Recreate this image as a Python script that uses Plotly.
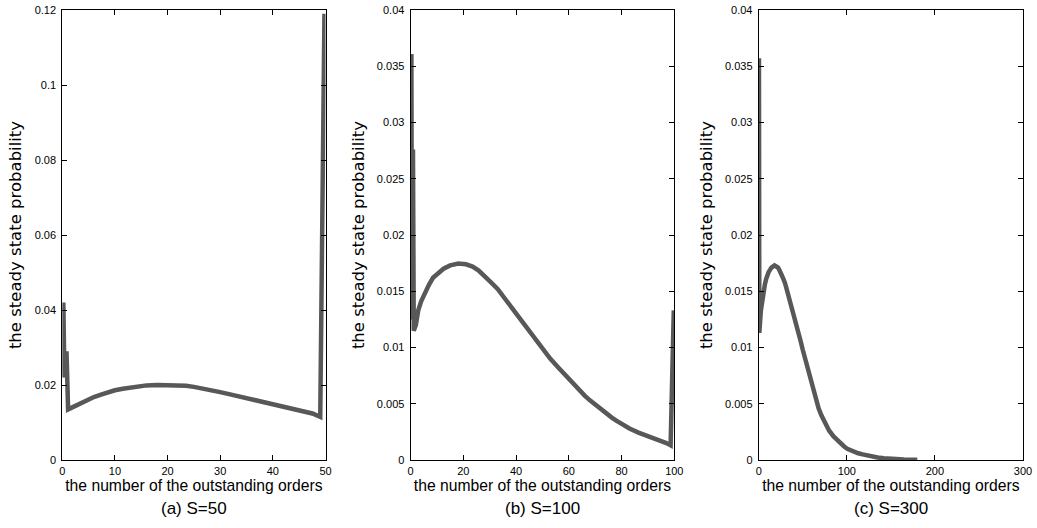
import plotly.graph_objects as go

# ---------------- data ----------------
# (a) S=50
x_a = [0.2, 0.4, 0.8, 1.1, 2.0, 3.0, 4.0, 5.0, 6.0, 7.5, 9.0, 10.0, 11.5, 13.0, 14.5, 16.0,
       18.0, 20.0, 22.0, 23.5, 25.0, 27.5, 30.0, 32.5, 35.0, 37.5, 40.0, 42.5, 45.0, 47.5,
       49.0, 49.2, 49.4, 49.6, 49.8]
y_a = [0.042, 0.022, 0.029, 0.0135, 0.0141, 0.0148, 0.0155, 0.0162, 0.0168, 0.0175, 0.0182,
       0.0186, 0.0190, 0.0194, 0.0197, 0.0199, 0.0200, 0.0200, 0.0200, 0.0198, 0.0195,
       0.0189, 0.0181, 0.0173, 0.0165, 0.0157, 0.0149, 0.0141, 0.0133, 0.0124,
       0.0115, 0.041, 0.069, 0.096, 0.119]

# (b) S=100
x_b = [0.1, 0.3, 0.5, 0.9, 1.2, 2.0, 2.9, 4.0, 5.5, 7.0, 8.5, 10.5, 12.5, 15.0, 18.1, 21.0,
       23.5, 25.7, 28.0, 30.0, 33.0, 35.8, 38.0, 40.0, 43.0, 45.9, 48.0, 50.0, 53.0, 56.0,
       58.0, 60.0, 63.0, 66.1, 68.0, 70.0, 73.0, 76.3, 78.0, 80.0, 83.0, 86.4, 88.0, 90.0,
       92.5, 95.0, 97.0, 98.6, 99.3, 99.8]
y_b = [0.0148, 0.0361, 0.0125, 0.0276, 0.0115, 0.0120, 0.0133, 0.0141, 0.0149, 0.0156,
       0.0162, 0.01665, 0.0170, 0.0173, 0.01746, 0.0174, 0.0172, 0.01686, 0.0164, 0.0159,
       0.0152, 0.01433, 0.0136, 0.0129, 0.0120, 0.01105, 0.0104, 0.0098, 0.0090, 0.00823,
       0.0077, 0.0072, 0.0064, 0.0057, 0.0053, 0.0049, 0.0043, 0.00377, 0.0035, 0.0032,
       0.0028, 0.00243, 0.0023, 0.0021, 0.0019, 0.0017, 0.0015, 0.0013, 0.0078, 0.0133]

# (c) S=300
x_c = [0.3, 0.7, 1.5, 2.5, 4.0, 5.6, 7.0, 8.5, 11.2, 14.5, 17.9, 20.0, 22.0, 24.0, 26.1,
       28.0, 30.0, 32.5, 35.4, 37.5, 40.0, 42.5, 44.8, 47.5, 50.0, 52.0, 54.1, 56.0, 58.0,
       60.5, 63.4, 65.5, 68.0, 71.0, 74.6, 77.0, 80.0, 85.0, 89.6, 93.0, 97.0, 100.5, 104.5,
       108.0, 113.0, 118.0, 123.0, 129.0, 135.0, 142.0, 150.0, 165.0, 180.0]
y_c = [0.0357, 0.0113, 0.0122, 0.0133, 0.0143, 0.01505, 0.0156, 0.0161, 0.0167, 0.0171,
       0.0173, 0.0172, 0.0171, 0.0168, 0.0165, 0.0161, 0.0157, 0.0150, 0.0143, 0.0136,
       0.0129, 0.0121, 0.0114, 0.0106, 0.0098, 0.0092, 0.0085, 0.0079, 0.0073, 0.0066,
       0.0058, 0.0052, 0.0046, 0.0040, 0.0034, 0.0030, 0.0026, 0.0021, 0.0017, 0.0014,
       0.0012, 0.0010, 0.00085, 0.0007, 0.0006, 0.0005, 0.0004, 0.0003, 0.00022, 0.00015,
       0.0001, 0.00005, 0.00002]

xticks_a = [0, 10, 20, 30, 40, 50]
xticks_b = [0, 20, 40, 60, 80, 100]
xticks_c = [0, 100, 200, 300]
yticks_a = [0, 0.02, 0.04, 0.06, 0.08, 0.1, 0.12]
yticks_bc = [0, 0.005, 0.01, 0.015, 0.02, 0.025, 0.03, 0.035, 0.04]

captions = ["(a) S=50", "(b) S=100", "(c) S=300"]
x_title = "the number of the outstanding orders"
y_title = "the steady state probability"

# ---------------- layout ----------------
W, H = 1037, 528
FONT = "Liberation Sans, Arial, sans-serif"
YFONT = "DejaVu Sans, Verdana, sans-serif"
LINE_COLOR = "rgb(88,88,88)"

panels = [
    dict(x=x_a, y=y_a, xr=[0, 50], yr=[0, 0.12], xt=xticks_a, yt=yticks_a, px=(62.3, 325.5)),
    dict(x=x_b, y=y_b, xr=[0, 100], yr=[0, 0.04], xt=xticks_b, yt=yticks_bc, px=(410.6, 674.3)),
    dict(x=x_c, y=y_c, xr=[0, 300], yr=[0, 0.04], xt=xticks_c, yt=yticks_bc, px=(758.7, 1023.0)),
]
y_dom = [1 - 460 / H, 1 - 10 / H]

fig = go.Figure()
layout = dict(
    width=W, height=H,
    margin=dict(l=0, r=0, t=0, b=0),
    paper_bgcolor="white", plot_bgcolor="white",
    showlegend=False,
    font=dict(family=FONT, color="black", size=11),
    annotations=[],
)

for i, p in enumerate(panels):
    n = "" if i == 0 else str(i + 1)
    fig.add_trace(go.Scatter(
        x=p["x"], y=p["y"], mode="lines",
        line=dict(color=LINE_COLOR, width=4.5),
        xaxis="x" + n, yaxis="y" + n, hoverinfo="x+y",
    ))
    axis_common = dict(
        showline=True, linecolor="black", linewidth=1, mirror="ticks",
        ticks="inside", ticklen=5, tickwidth=1, tickcolor="black",
        showgrid=False, zeroline=False, automargin=False,
        tickfont=dict(family=FONT, size=11, color="black"),
    )
    dom = [p["px"][0] / W, p["px"][1] / W]
    layout["xaxis" + n] = dict(
        axis_common, domain=dom, range=p["xr"], tickvals=p["xt"],
        anchor="y" + n, ticklabelstandoff=1,
        title=dict(text=x_title, font=dict(family=FONT, size=15.7), standoff=3),
    )
    layout["yaxis" + n] = dict(
        axis_common, domain=y_dom, range=p["yr"], tickvals=p["yt"],
        anchor="x" + n, ticklabelstandoff=3,
        title=dict(text=y_title, font=dict(family=YFONT, size=16.5), standoff=8),
    )
    layout["annotations"].append(dict(
        text=captions[i], xref="paper", yref="paper",
        x=(dom[0] + dom[1]) / 2, y=1 - 508 / H, xanchor="center", yanchor="middle",
        showarrow=False, font=dict(family=FONT, size=17, color="black"),
    ))

fig.update_layout(**layout)
fig.write_html(
    "out.html",
    config={"displayModeBar": False},
    post_script="document.body.style.margin='0';document.body.style.overflow='hidden';",
)
